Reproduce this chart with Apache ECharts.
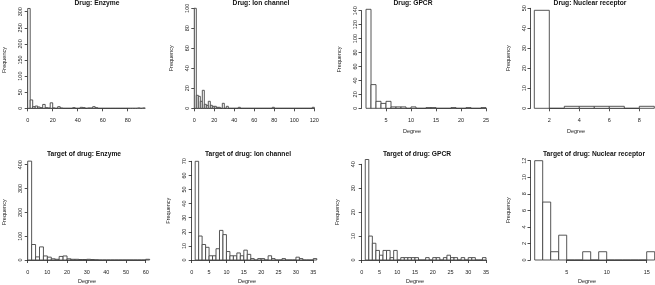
<!DOCTYPE html>
<html lang="en">
<head>
<meta charset="utf-8">
<title>Degree distributions</title>
<script src="https://cdn.jsdelivr.net/npm/echarts@6/dist/echarts.min.js"></script>
<style>
  html, body { margin: 0; padding: 0; background: #fff; }
  #chart { width: 655px; height: 285px; }
</style>
</head>
<body>
<div id="chart"></div>
<script>
// panel titles, top row then bottom row
var titles = ['Drug: Enzyme', 'Drug: Ion channel', 'Drug: GPCR', 'Drug: Nuclear receptor',
              'Target of drug: Enzyme', 'Target of drug: Ion channel', 'Target of drug: GPCR', 'Target of drug: Nuclear receptor'];

// histogram bins: first break, bin width, counts per bin
var drugEnzymeBreaks = [0, 2];
var drugEnzymeCounts = [310, 26, 5, 7, 4, 2, 12, 2, 1, 17, 1, 0, 5, 1, 0, 0, 0, 0, 2, 0, 0, 3, 2, 0, 1, 1, 5, 2,
                        0, 0, 0, 0, 0, 0, 0, 0, 0, 0, 0, 0, 0, 0, 0, 0, 1, 0, 1];
var drugIonBreaks = [0, 2];
var drugIonCounts = [100, 13, 12, 7, 18, 4, 3, 7, 3, 2, 2, 1, 1, 0, 5, 0, 2, 0, 0, 0, 0, 0, 1, 0, 0, 0, 0, 0, 0, 0,
                     0, 0, 0, 0, 0, 0, 0, 0, 0, 1, 0, 0, 0, 0, 0, 0, 0, 0, 0, 0, 0, 0, 0, 0, 0, 0, 0, 0, 0, 1];
var drugGpcrBreaks = [1, 1];
var drugGpcrCounts = [142, 34, 10, 7, 10, 2, 2, 2, 0, 2, 0, 0, 1, 1, 0, 0, 0, 1, 0, 0, 1, 0, 0, 1];
var drugNrBreaks = [1, 1];
var drugNrCounts = [49, 0, 1, 1, 1, 1, 0, 1];

var targetEnzymeBreaks = [0, 2];
var targetEnzymeCounts = [415, 65, 13, 55, 17, 12, 5, 3, 15, 17, 5, 3, 3, 2, 2, 3, 2, 1,
                          0, 0, 0, 0, 0, 0, 0, 0, 0, 0, 0, 0, 3];
var targetIonBreaks = [1, 1];
var targetIonCounts = [70, 17, 11, 9, 3, 3, 8, 21, 18, 6, 3, 3, 5, 3, 7, 4, 1, 0, 1, 1, 0, 3, 1, 0, 0, 1, 0, 0, 0,
                       2, 1, 0, 0, 0, 1];
var targetGpcrBreaks = [1, 1];
var targetGpcrCounts = [42, 10, 7, 4, 2, 4, 4, 1, 4, 0, 1, 1, 1, 1, 1, 0, 0, 1, 0, 1, 1, 0, 1, 2, 1, 1, 0, 1, 0, 1,
                        1, 0, 0, 1];
var targetNrBreaks = [1, 1];
var targetNrCounts = [12, 7, 1, 3, 0, 0, 1, 0, 1, 0, 0, 0, 0, 0, 1];

// axis ticks: [first, last, step]
var xTicks = [[0, 80, 20], [0, 120, 20], [5, 25, 5], [2, 8, 2],
              [0, 60, 10], [0, 35, 5], [0, 35, 5], [5, 15, 5]];
var yTicks = [[0, 300, 50], [0, 100, 20], [0, 140, 20], [0, 50, 10],
              [0, 400, 100], [0, 70, 10], [0, 40, 10], [0, 12, 2]];

var allBreaks = [drugEnzymeBreaks, drugIonBreaks, drugGpcrBreaks, drugNrBreaks,
                 targetEnzymeBreaks, targetIonBreaks, targetGpcrBreaks, targetNrBreaks];
var allCounts = [drugEnzymeCounts, drugIonCounts, drugGpcrCounts, drugNrCounts,
                 targetEnzymeCounts, targetIonCounts, targetGpcrCounts, targetNrCounts];

// pixel layout of each panel: first x tick, last x tick, top y tick, y zero, y axis line x, x axis line y
var boxes = [
  [26.7, 127.7, 11.7, 108.3, 25, 113],
  [194.3, 314.3, 8.3, 108.3, 193, 112.5],
  [386, 486, 10.7, 108.3, 361.5, 113],
  [549.3, 639.3, 8.3, 108.3, 530.5, 113],
  [26.7, 145.7, 164.7, 260, 25, 264.5],
  [191.7, 313.3, 161.3, 260, 190, 264.5],
  [361.7, 486, 164.3, 260, 359, 264.5],
  [566.7, 646.7, 160.7, 260, 530.5, 264.5]
];
var titlePos = [[97, 4], [261, 4], [413, 4], [590, 4], [84, 155], [248, 155], [417, 155], [594, 155]];
var degreePos = [null, null, [412, 131], [576, 131], [87, 281], [247, 281], [415, 281], [587, 281]];

var font = 'Liberation Sans, Arial, Helvetica, sans-serif';
var ink = '#222';

function histData(breaks, counts) {
  var out = [];
  for (var i = 0; i < counts.length; i++) {
    var lo = breaks[0] + i * breaks[1];
    out.push([lo, lo + breaks[1], counts[i]]);
  }
  return out;
}

function renderBin(params, api) {
  var p0 = api.coord([api.value(0), 0]);
  var p1 = api.coord([api.value(1), api.value(2)]);
  return {
    type: 'rect',
    shape: { x: p0[0], y: p1[1], width: p1[0] - p0[0], height: p0[1] - p1[1] },
    style: { fill: '#fff', stroke: '#444', lineWidth: 0.9 }
  };
}

var grid = [], xAxis = [], yAxis = [], series = [], title = [], graphic = [];

for (var k = 0; k < 8; k++) {
  var b = boxes[k];
  grid.push({ left: b[0], top: b[2], width: b[1] - b[0], height: b[3] - b[2] });
  xAxis.push({
    type: 'value', gridIndex: k,
    min: xTicks[k][0], max: xTicks[k][1], interval: xTicks[k][2],
    offset: b[5] - b[3],
    splitLine: { show: false },
    axisLine: { lineStyle: { color: ink, width: 0.8 } },
    axisTick: { length: 3, lineStyle: { color: ink, width: 0.8 } },
    axisLabel: { fontSize: 5.5, color: ink, fontFamily: font, margin: 4.5, showMinLabel: true, showMaxLabel: true }
  });
  yAxis.push({
    type: 'value', gridIndex: k,
    min: yTicks[k][0], max: yTicks[k][1], interval: yTicks[k][2],
    offset: b[0] - b[4],
    name: 'Frequency', nameLocation: 'middle', nameGap: 19,
    nameTextStyle: { fontSize: 5.5, color: ink, fontFamily: font },
    splitLine: { show: false },
    axisLine: { show: true, lineStyle: { color: ink, width: 0.8 } },
    axisTick: { show: true, length: 3, lineStyle: { color: ink, width: 0.8 } },
    axisLabel: { fontSize: 5.5, color: ink, fontFamily: font, rotate: 90, margin: 3, showMinLabel: true, showMaxLabel: true }
  });
  series.push({
    type: 'custom', xAxisIndex: k, yAxisIndex: k,
    renderItem: renderBin, clip: false,
    encode: { x: [0, 1], y: 2 },
    data: histData(allBreaks[k], allCounts[k])
  });
  title.push({
    text: titles[k], left: titlePos[k][0], top: titlePos[k][1] - 4, textAlign: 'center',
    padding: 0,
    textStyle: { fontSize: 6.7, fontWeight: 'bold', color: '#111', fontFamily: font }
  });
  if (degreePos[k]) {
    graphic.push({
      type: 'text', x: degreePos[k][0], y: degreePos[k][1],
      style: { text: 'Degree', fontSize: 5.5, fill: ink, fontFamily: font, textAlign: 'center', textVerticalAlign: 'middle' }
    });
  }
}

var chart = echarts.init(document.getElementById('chart'));
chart.setOption({
  animation: false,
  backgroundColor: '#fff',
  title: title,
  grid: grid,
  xAxis: xAxis,
  yAxis: yAxis,
  series: series,
  graphic: graphic
});
</script>
</body>
</html>
